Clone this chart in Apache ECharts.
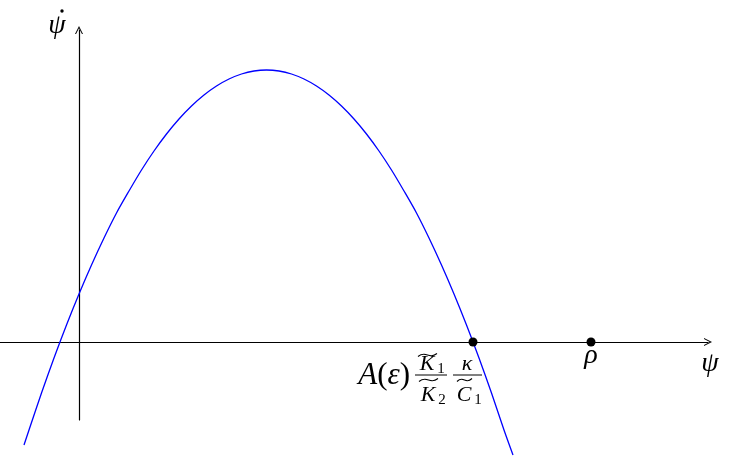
<!DOCTYPE html>
<html>
<head>
<meta charset="utf-8">
<script src="https://cdn.jsdelivr.net/npm/echarts@6/dist/echarts.min.js"></script>
<style>
  html, body { margin: 0; padding: 0; background: #fff; }
  #chart { width: 730px; height: 456px; }
</style>
</head>
<body>
<div id="chart"></div>
<script>
// curve (psi, psi-dot)
var psiVals = [-0.55, -0.5, -0.375, -0.25, -0.125, 0, 0.125, 0.25, 0.375, 0.5, 0.625, 0.75, 0.875, 1.0,
  1.125, 1.25, 1.375, 1.5, 1.625, 1.75, 1.875, 2.0, 2.125, 2.25, 2.375, 2.5, 2.625, 2.75, 2.875, 3.0,
  3.125, 3.25, 3.375, 3.5, 3.625, 3.75, 3.875, 4.0, 4.125, 4.25, 4.34];
var psiDotVals = [-1.03, -0.88, -0.51, -0.16, 0.17, 0.48, 0.77, 1.04, 1.29, 1.51, 1.72, 1.91, 2.08, 2.23,
  2.36, 2.47, 2.56, 2.63, 2.68, 2.71, 2.72, 2.71, 2.68, 2.63, 2.56, 2.47, 2.36, 2.23, 2.08, 1.91,
  1.72, 1.51, 1.29, 1.04, 0.77, 0.48, 0.17, -0.16, -0.51, -0.88, -1.13];
var rootPsi = 3.94;
var rhoPsi = 5.12;
var xRange = [-0.79, 6.29];
var yRange = [-0.78, 3.12];

var chartDom = document.getElementById('chart');
var myChart = echarts.init(chartDom);
var option;

var curve = [];
for (var i = 0; i < psiVals.length; i++) {
  curve.push([psiVals[i], psiDotVals[i]]);
}

var arrowPath = 'path://M5,0 L10,10 L8.7,10 L5,2.8 L1.3,10 L0,10 Z';
var serif = '"Liberation Serif", "DejaVu Serif", serif';

option = {
  animation: false,
  grid: { left: 0, right: 22, top: 30, bottom: 36 },
  xAxis: {
    type: 'value',
    min: xRange[0],
    max: xRange[1],
    axisLine: {
      onZero: true,
      symbol: ['none', arrowPath],
      symbolSize: [8, 9],
      lineStyle: { color: '#000', width: 1.2 }
    },
    axisTick: { show: false },
    axisLabel: { show: false },
    splitLine: { show: false }
  },
  yAxis: {
    type: 'value',
    min: yRange[0],
    max: yRange[1],
    axisLine: {
      onZero: true,
      symbol: ['none', arrowPath],
      symbolSize: [8, 9],
      lineStyle: { color: '#000', width: 1.2 }
    },
    axisTick: { show: false },
    axisLabel: { show: false },
    splitLine: { show: false }
  },
  series: [
    {
      type: 'line',
      data: curve,
      smooth: 0.3,
      showSymbol: false,
      clip: false,
      lineStyle: { color: '#0000ff', width: 1.3 },
      z: 3
    },
    {
      type: 'scatter',
      data: [[rootPsi, 0], [rhoPsi, 0]],
      symbolSize: 9,
      clip: false,
      itemStyle: { color: '#000', opacity: 1 },
      z: 4
    }
  ]
};

option && myChart.setOption(option);

// labels placed relative to the data points
var pRoot = myChart.convertToPixel({ gridIndex: 0 }, [rootPsi, 0]);
var pRho = myChart.convertToPixel({ gridIndex: 0 }, [rhoPsi, 0]);
var pOrig = myChart.convertToPixel({ gridIndex: 0 }, [0, 0]);

function txt(x, y, s, size, italic, align) {
  return {
    type: 'text',
    x: x, y: y,
    style: {
      text: s,
      font: (italic ? 'italic ' : '') + size + 'px ' + serif,
      fill: '#000',
      align: align || 'center',
      verticalAlign: 'middle'
    },
    z: 10
  };
}
function bar(x1, x2, y) {
  return {
    type: 'line',
    shape: { x1: x1, y1: y, x2: x2, y2: y },
    style: { stroke: '#000', lineWidth: 1 },
    z: 10
  };
}
// wide tilde like \widetilde
function tilde(x1, x2, y) {
  var w = x2 - x1;
  return {
    type: 'bezierCurve',
    shape: {
      x1: x1, y1: y + 1.5, x2: x2, y2: y - 1.5,
      cpx1: x1 + w * 0.45, cpy1: y - 5,
      cpx2: x1 + w * 0.55, cpy2: y + 5
    },
    style: { stroke: '#000', lineWidth: 1.1, fill: null },
    z: 10
  };
}

var fx = pRoot[0];
var fy = pRoot[1];
var ox = pOrig[0];
myChart.setOption({
  graphic: [
    txt(ox - 22, 26, '\u03c8', 28, true),
    { type: 'circle', shape: { cx: ox - 17, cy: 11, r: 1.7 }, style: { fill: '#000' }, z: 10 },
    txt(710, fy + 22, '\u03c8', 28, true),
    txt(pRho[0], fy + 14, '\u03c1', 28, true),
    {
      type: 'text',
      x: fx - 63, y: fy + 34,
      style: {
        rich: {
          i: { font: 'italic 31px ' + serif },
          r: { font: '31px ' + serif }
        },
        text: '{i|A}{r|(}{i|\u03b5}{r|)}',
        fill: '#000',
        align: 'right',
        verticalAlign: 'middle'
      },
      z: 10
    },
    tilde(fx - 55, fx - 36, fy + 13),
    txt(fx - 46, fy + 22, 'K', 22, true),
    txt(fx - 32, fy + 27, '1', 15, false),
    bar(fx - 58, fx - 26, fy + 33),
    tilde(fx - 54, fx - 35, fy + 38),
    txt(fx - 45, fy + 53, 'K', 22, true),
    txt(fx - 31, fy + 58, '2', 15, false),
    txt(fx - 6, fy + 22, '\u03ba', 22, true),
    bar(fx - 20, fx + 9, fy + 33),
    tilde(fx - 16, fx - 1, fy + 38),
    txt(fx - 9, fy + 53, 'C', 22, true),
    txt(fx + 5, fy + 58, '1', 15, false)
  ]
});
</script>
</body>
</html>
